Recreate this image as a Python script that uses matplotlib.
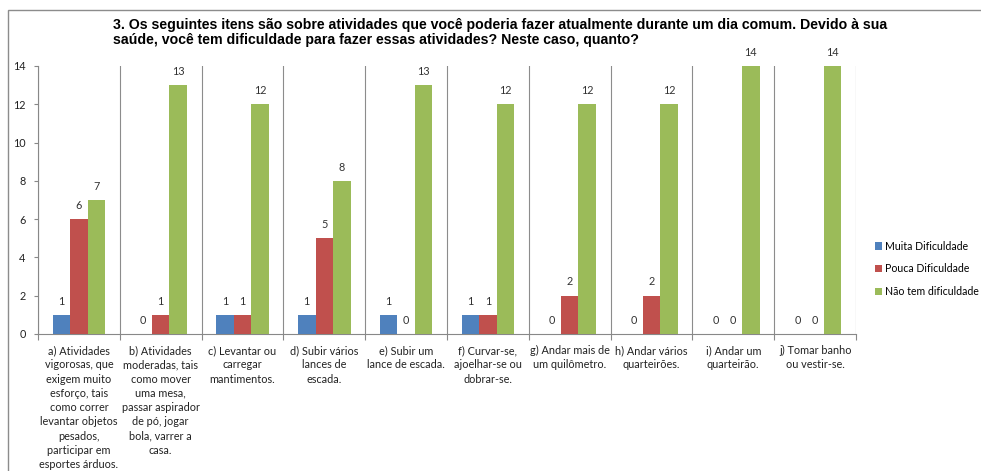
import matplotlib
matplotlib.use("Agg")
import matplotlib.pyplot as plt
import numpy as np
from matplotlib.patches import Rectangle

title = ("3. Os seguintes itens são sobre atividades que você poderia fazer atualmente durante um dia comum. Devido à sua\n"
         "saúde, você tem dificuldade para fazer essas atividades? Neste caso, quanto?")

categories = [
    "a) Atividades\nvigorosas, que\nexigem muito\nesforço, tais\ncomo correr\nlevantar objetos\npesados,\nparticipar em\nesportes árduos.",
    "b) Atividades\nmoderadas, tais\ncomo mover\numa mesa,\npassar aspirador\nde pó, jogar\nbola, varrer a\ncasa.",
    "c) Levantar ou\ncarregar\nmantimentos.",
    "d) Subir vários\nlances de\nescada.",
    "e) Subir um\nlance de escada.",
    "f) Curvar-se,\najoelhar-se ou\ndobrar-se.",
    "g) Andar mais de\num quilômetro.",
    "h) Andar vários\nquarteirões.",
    "i) Andar um\nquarteirão.",
    "j) Tomar banho\nou vestir-se.",
]
series_names = ["Muita Dificuldade", "Pouca Dificuldade", "Não tem dificuldade"]
muita = [1, 0, 1, 1, 1, 1, 0, 0, 0, 0]
pouca = [6, 1, 1, 5, 0, 1, 2, 2, 0, 0]
nao = [7, 13, 12, 8, 13, 12, 12, 12, 14, 14]
y_ticks = [0, 2, 4, 6, 8, 10, 12, 14]

colors = ["#4F81BD", "#C0504D", "#9BBB59"]
W, H = 981, 471
fig = plt.figure(figsize=(W / 100, H / 100), dpi=100)
fig.patch.set_facecolor("white")

# outer chart frame
fig.patches.append(Rectangle((8 / W, -0.1), 1.2, 1.1 - 10 / H, transform=fig.transFigure,
                             fill=False, edgecolor="#8c8c8c", linewidth=1.0))

ax = fig.add_axes([38 / W, 137 / H, (856 - 38) / W, 268 / H])
n = len(categories)
x = np.arange(n)
bw = 0.215
font = "Lato"
for i, (vals, c, name) in enumerate(zip([muita, pouca, nao], colors, series_names)):
    pos = x + (i - 1) * bw
    ax.bar(pos, vals, width=bw, color=c, label=name, zorder=3)
    for p, v in zip(pos, vals):
        ax.annotate(str(v), (p, v), xytext=(0, 6), textcoords="offset points",
                    ha="center", va="bottom", fontsize=7.8, color="#333333", family=font)

ax.set_xlim(-0.5, n - 0.5)
ax.set_ylim(0, 14)
ax.set_yticks(y_ticks)
ax.set_yticklabels([str(t) for t in y_ticks], fontsize=7.8, family=font, color="#222222")
ax.tick_params(axis="y", length=3, color="#888888", pad=6)

# category boundary gridlines
bounds = np.arange(n + 1) - 0.5
ax.set_xticks(bounds)
ax.set_xticklabels([])
ax.tick_params(axis="x", length=4, color="#888888", direction="out")
ax.xaxis.grid(True, color="#8c8c8c", linewidth=0.8, zorder=0)
ax.set_xticks(x, minor=True)
ax.set_xticklabels(categories, minor=True, fontsize=7.8, family=font, color="#222222",
                   linespacing=1.36, va="top")
ax.tick_params(axis="x", which="minor", length=0, pad=8)

for s in ["top", "right"]:
    ax.spines[s].set_visible(False)
ax.spines["left"].set_color("#888888")
ax.spines["bottom"].set_color("#888888")

fig.text(113 / W, 1 - 18 / H, title, ha="left", va="top", fontsize=10.2, fontweight="bold",
         family="Liberation Sans", linespacing=1.1)

leg = fig.legend(loc="upper left", bbox_to_anchor=(865 / W, 1 - 231 / H), frameon=False,
                 prop={"family": font, "size": 7.6}, handlelength=0.7, handleheight=0.7,
                 handletextpad=0.3, labelspacing=1.12)

fig.savefig("out.png", dpi=100, facecolor="white")
